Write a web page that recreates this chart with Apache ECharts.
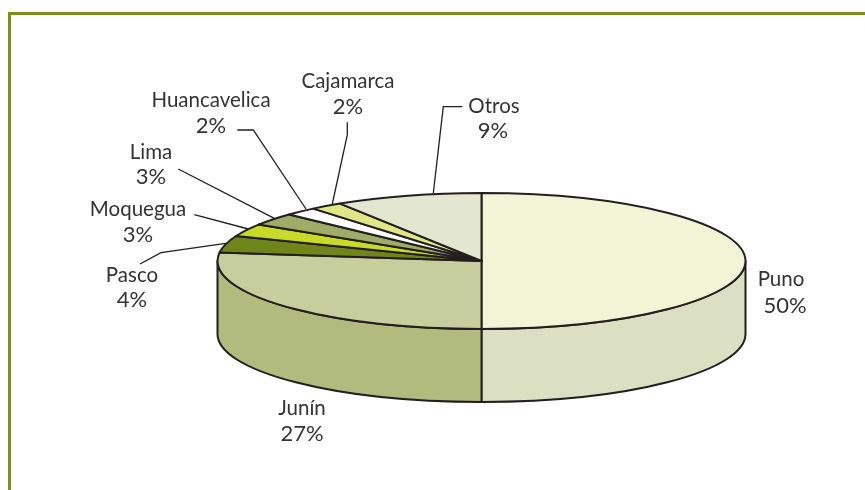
<!DOCTYPE html>
<html>
<head>
<meta charset="utf-8">
<style>
	html,body{margin:0;padding:0;background:#fff;}
	#chart{width:865px;height:490px;}
</style>
<script src="https://cdn.jsdelivr.net/npm/echarts@6/dist/echarts.min.js"></script>
</head>
<body>
<div id="chart"></div>
<script>
var regions = ['Puno','Junín','Pasco','Moquegua','Lima','Huancavelica','Cajamarca','Otros'];
var shares = [50,27,4,3,3,2,2,9];

var topColors = ['#f1f5d5','#c6ce9e','#6f8419','#c8da28','#9fac67','#ffffff','#dfe685','#e3e7cf'];
var sideColors = ['#dbe0c2','#b1bb7e','#6f8419','#c8da28','#9fac67','#ffffff','#dfe685','#e3e7cf'];

// label placement, text centres [name, percent]
var labelSpots = [
	[[781,279],[785,306]],
	[[302,408],[302,434]],
	[[132,275],[132,300]],
	[[138,209],[138,235]],
	[[151,152],[151,177]],
	[[211,100],[211,126]],
	[[348,81],[348,107]],
	[[494,106],[493,131]]
];
var leaders = [
	null,
	null,
	[[225.7,243.3],[161,252.7],[140,264]],
	[[248.3,229],[194.3,214.7]],
	[[274.3,218.3],[178.3,169]],
	[[306,209],[253.3,130],[237.3,130]],
	[[332.3,204],[347.3,135],[347.3,122.3]],
	[[433.3,193.3],[443.3,106.7],[462.3,106.7]]
];

var pie = {cx:481.5, cy:261, rx:264, ry:68, depth:73};
var inkColor = '#231f20';
var textColor = '#333333';
var fontName = 'Lato';

var total = 0;
shares.forEach(function(v){ total += v; });

function edge(t, drop){
	var a = t * Math.PI * 2;
	return [pie.cx + pie.rx * Math.sin(a), pie.cy - pie.ry * Math.cos(a) + (drop || 0)];
}
function arcTo(p, from, to, sweep){
	var large = Math.abs(to - from) > 0.5 ? 1 : 0;
	return 'A' + pie.rx + ' ' + pie.ry + ' 0 ' + large + ' ' + sweep + ' ' + p[0] + ' ' + p[1];
}
function topPath(from, to){
	var a = edge(from), b = edge(to);
	return 'M' + pie.cx + ' ' + pie.cy + 'L' + a[0] + ' ' + a[1] + arcTo(b, from, to, 1) + 'Z';
}
function sidePath(from, to){
	// only the front half of the rim can be seen
	var s = Math.max(from, 0.25), e = Math.min(to, 0.75);
	if(e <= s) return null;
	var a = edge(s), b = edge(e), c = edge(e, pie.depth), d = edge(s, pie.depth);
	return 'M' + a[0] + ' ' + a[1] + arcTo(b, s, e, 1) +
		'L' + c[0] + ' ' + c[1] + arcTo(d, e, s, 0) + 'Z';
}
function textEl(str, spot, size){
	return {
		type: 'text',
		style: {
			text: str, x: spot[0], y: spot[1],
			align: 'center', verticalAlign: 'middle',
			font: size + 'px ' + fontName, fill: textColor
		}
	};
}

var sliceData = regions.map(function(name, i){ return [i, shares[i]]; });
var starts = [];
var running = 0;
shares.forEach(function(v){ starts.push(running / total); running += v; });

function renderSlice(params, api){
	var i = api.value(0);
	var from = starts[i];
	var to = from + api.value(1) / total;
	var kids = [];
	var side = sidePath(from, to);
	var line = {stroke: inkColor, lineWidth: 2, lineJoin: 'round'};
	if(side){
		kids.push({type:'path', shape:{pathData:side}, style:Object.assign({fill:sideColors[i]}, line)});
	}
	kids.push({type:'path', shape:{pathData:topPath(from, to)}, style:Object.assign({fill:topColors[i]}, line)});
	if(leaders[i]){
		kids.push({type:'polyline', shape:{points:leaders[i]}, style:{stroke:inkColor, lineWidth:1.3, fill:null}});
	}
	kids.push(textEl(regions[i], labelSpots[i][0], 20.5));
	kids.push(textEl(api.value(1) + '%', labelSpots[i][1], 22));
	return {type:'group', children:kids};
}

var myChart = echarts.init(document.getElementById('chart'));
myChart.setOption({
	backgroundColor: '#ffffff',
	animation: false,
	graphic: [
		{type:'rect', shape:{x:8,y:12,width:857,height:3}, style:{fill:'#7b8f1f'}},
		{type:'rect', shape:{x:8,y:12,width:3,height:478}, style:{fill:'#7b8f1f'}}
	],
	series: [
		{
			type: 'custom',
			coordinateSystem: 'none',
			silent: true,
			data: sliceData,
			renderItem: renderSlice
		}
	]
});
</script>
</body>
</html>
